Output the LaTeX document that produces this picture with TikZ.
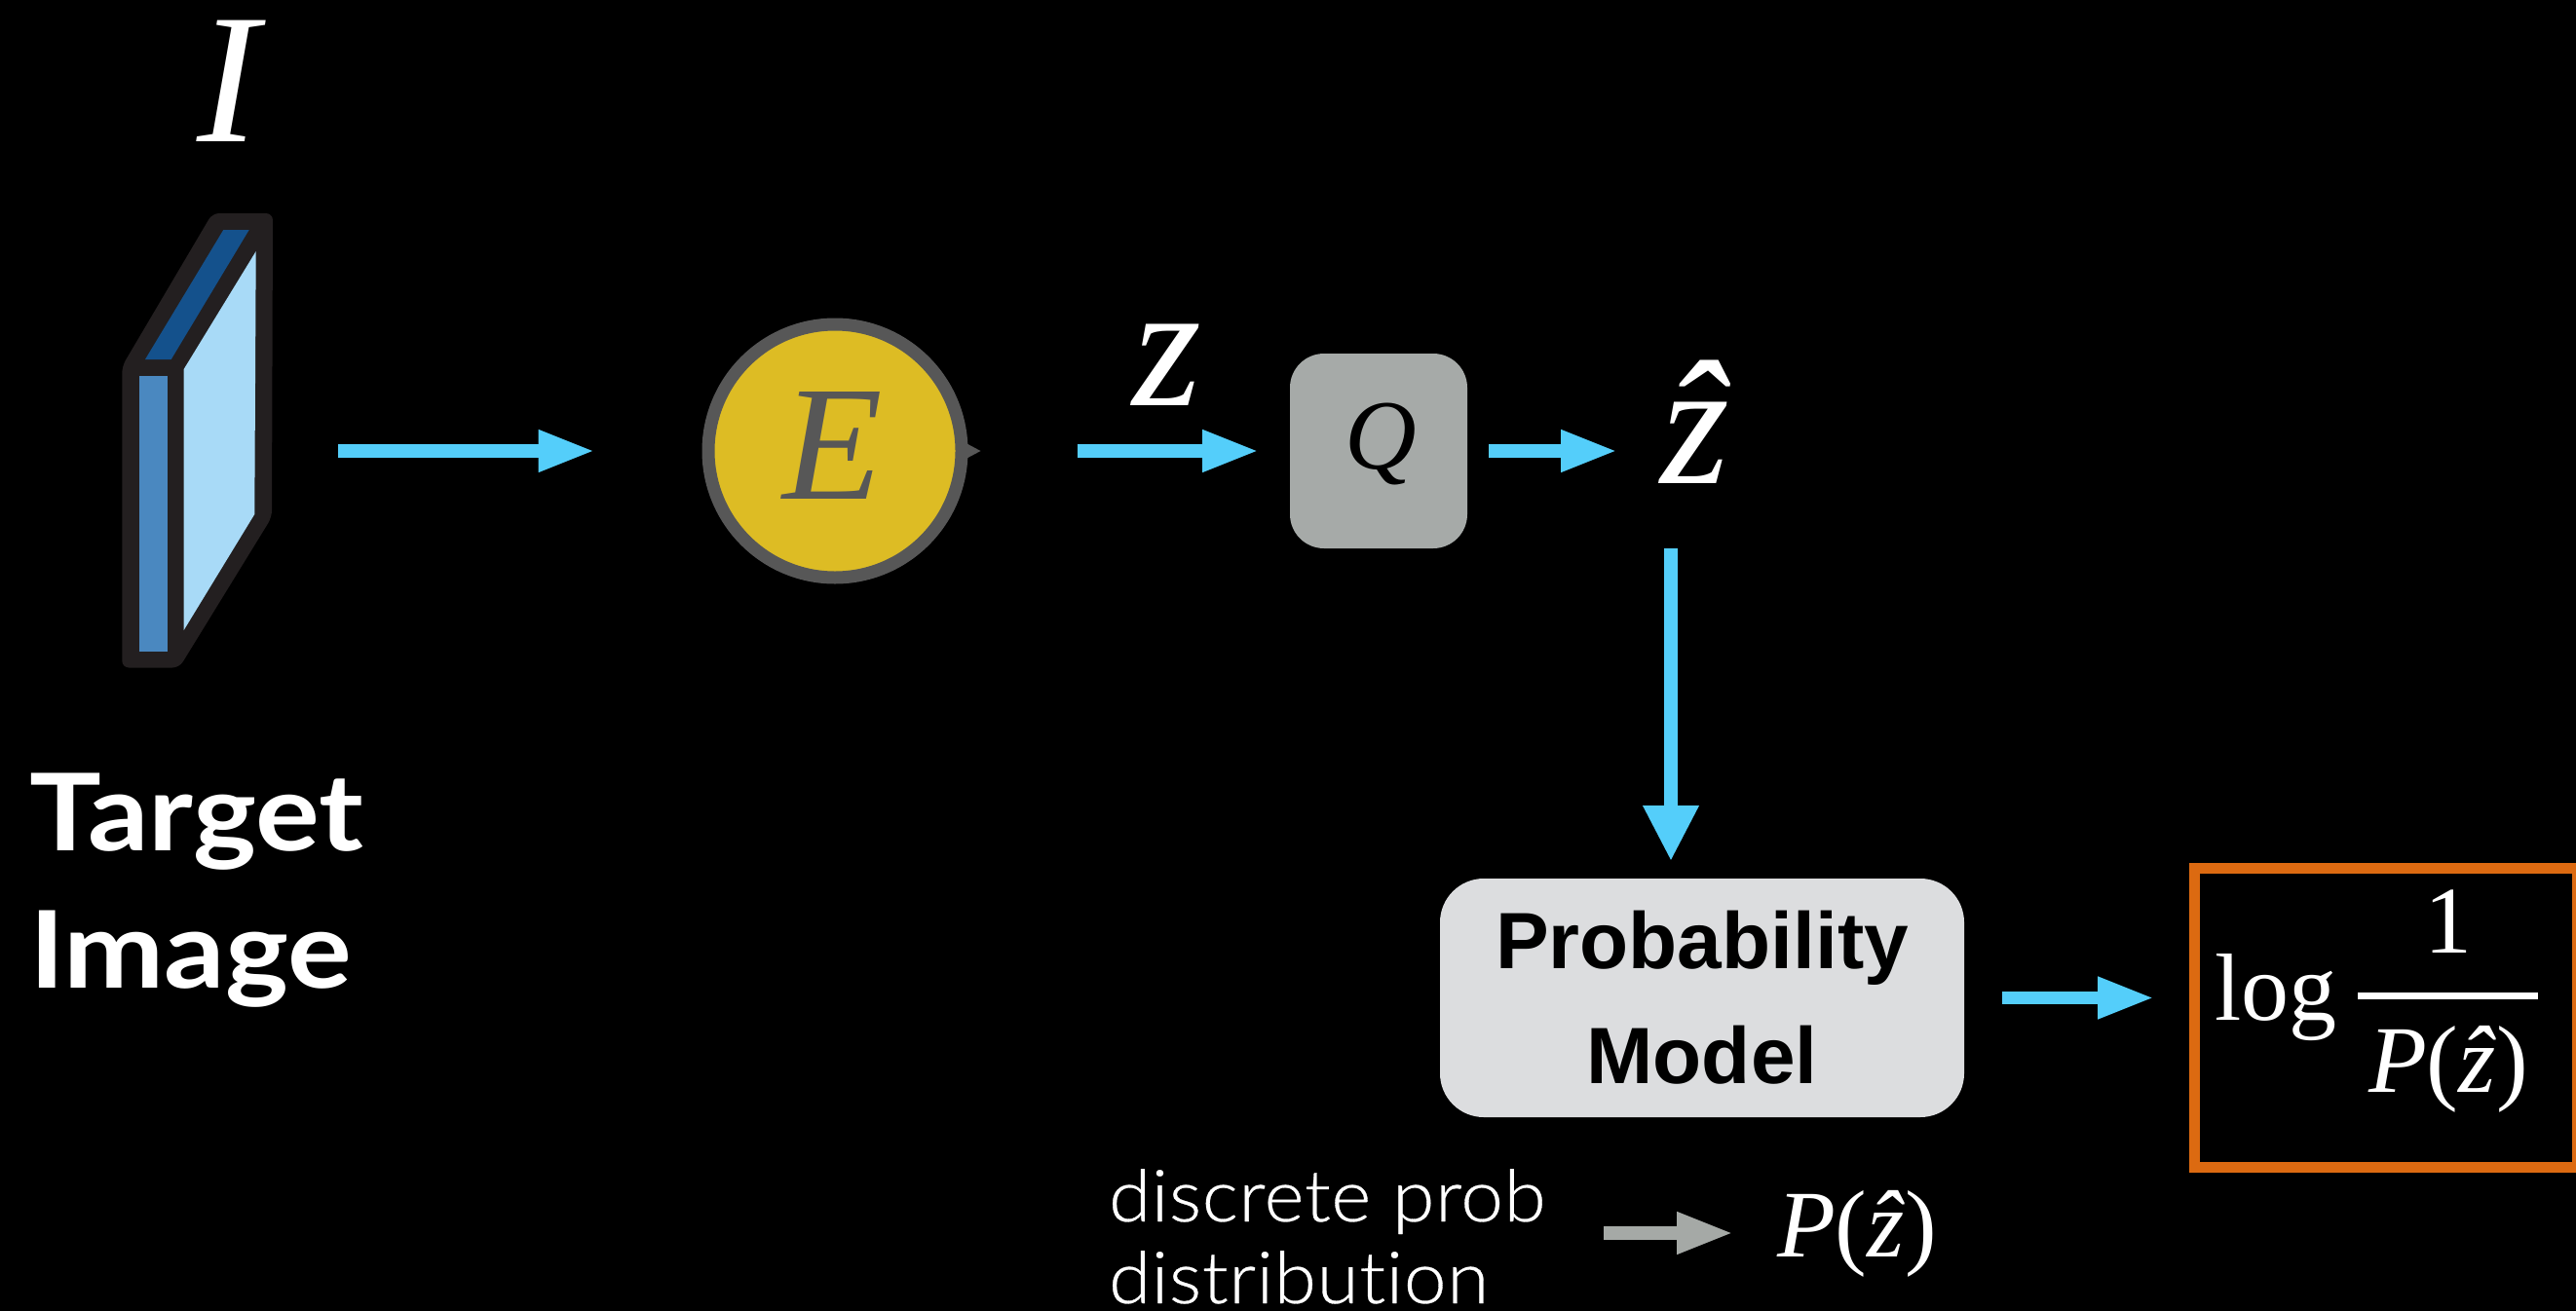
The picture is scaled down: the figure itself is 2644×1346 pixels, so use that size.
\documentclass[tikz,border=0pt]{standalone}
\usepackage{fontspec}
\setmainfont{Liberation Serif}
\newfontfamily\helv{Liberation Sans}
\newfontfamily\proxb[FakeStretch=1.12,Ligatures=NoCommon]{Lato}
\newfontfamily\proxl[FakeStretch=1.06,Ligatures=NoCommon,LetterSpace=0.8,FakeBold=0.4]{Lato Light}
\usetikzlibrary{arrows.meta,calc}
\definecolor{arrowblue}{HTML}{54CEFA}
\definecolor{arrowgrey}{HTML}{A5A9A6}
\definecolor{bookdark}{HTML}{231F20}
\definecolor{booktop}{HTML}{14518C}
\definecolor{bookside}{HTML}{4A88C0}
\definecolor{bookface}{HTML}{A8DAF7}
\definecolor{encgold}{HTML}{DDBC24}
\definecolor{encgrey}{HTML}{575757}
\definecolor{quantgrey}{HTML}{A6AAA8}
\definecolor{probgrey}{HTML}{DCDDDF}
\definecolor{boxorange}{HTML}{DC6A11}
\newcommand{\sz}[2]{\fontsize{#1}{#2}\selectfont}
\tikzset{
  flow/.style={draw=arrowblue,line width=13.2pt,-{Triangle[length=58pt,width=40pt,fill=arrowblue]}},
  txt/.style={text=white,inner sep=0pt,outer sep=0pt,anchor=base},
  mathi/.style={txt,font=\sz{182}{182}\itshape},
  mathm/.style={txt,font=\sz{98}{98}},
}
\begin{document}
\begin{tikzpicture}[x=1pt,y=-1pt]
\clip (0,0) rectangle (2644,1346);
\fill[black] (0,0) rectangle (2644,1346);
% target image block
\node[minimum width=155pt,minimum height=466pt,inner sep=0pt,outer sep=0pt] (book) at (202.5,452) {};
\fill[bookdark,rounded corners=7pt] (125.3,376) -- (218,219) -- (280,219) -- (279,531) -- (184,685.5) -- (125.3,685.5) -- cycle;
\fill[booktop] (229.3,236) -- (255.7,236) -- (175.7,369) -- (149,369) -- cycle;
\fill[bookside] (142.7,386) rectangle (171.7,669);
\fill[bookface] (188.7,379) -- (262.7,258) -- (261.3,528) -- (188.7,647) -- cycle;
\node[txt,font=\sz{190}{190}\itshape] (I) at (234,145) {I};
\node[txt,anchor=base west,align=left,font=\proxb\bfseries\sz{110}{141}] (target) at (30,1014) {Target\\Image};
% encoder
\node[circle,draw=encgrey,line width=13pt,fill=encgold,minimum size=260pt,inner sep=0pt] (E) at (857,463) {};
\node[txt,text=encgrey,font=\sz{168}{168}\itshape] (Etext) at (855,512) {E};
\fill[encgrey] (E.east) ++(-2,-8) -- ++(15,8) -- ++(-15,8) -- cycle;
% quantiser
\node[rounded corners=35pt,fill=quantgrey,minimum width=182pt,minimum height=200pt,inner sep=0pt,outer sep=0pt] (Q) at (1415,463) {};
\node[txt,text=black,font=\sz{102}{102}\itshape] (Qtext) at (1417,481) {Q};
\node[mathi] (z) at (1198,416) {z};
\node[mathi] (zhat) at (1740,496) {\^{z}};
\coordinate (zdown) at (1715,563);
% probability model
\node[rounded corners=45pt,fill=probgrey,minimum width=538pt,minimum height=245pt,inner sep=0pt,outer sep=0pt,text=black,align=center,font=\helv\bfseries\sz{82}{118}] (Prob) at (1747,1024.5) {Probability\\Model};
% rate box
\node[draw=boxorange,line width=11pt,minimum width=393pt,minimum height=307.5pt,inner sep=0pt,outer sep=5.5pt] (rate) at (2449,1044.75) {};
\node[txt,anchor=base west,font=\sz{98}{98}] (log) at (2273,1047) {log};
\node[mathm] (one) at (2513,978) {1};
\node[mathm,anchor=base west] (den) at (2431,1121) {\textit{P}(\textit{\^{z}})};
\coordinate (barl) at (2420,1022.5);
\coordinate (barr) at (2605,1022.5);
\draw[white,line width=6.5pt] (barl) -- (barr);
% legend
\node[txt,anchor=base west,align=left,font=\proxl\sz{74}{84}] (disc) at (1138,1338) {discrete prob\\distribution};
\node[mathm,anchor=base west] (pz) at (1824,1290) {\textit{P}(\textit{\^{z}})};
\coordinate (gs) at (1646,1266);
\coordinate (ge) at (1779,1266);
% connectors
\draw[flow,shorten <=67pt,shorten >=110pt] (book.east |- E.west) -- (E.west);
\draw[flow,shorten <=112pt,shorten >=32pt] (E.east) -- (Q.west);
\draw[flow,shorten <=22pt] (Q.east) -- (Q.east -| 1660,0);
\draw[flow,-{Triangle[length=57pt,width=54pt,fill=arrowblue]},shorten >=18pt] (zdown) -- (zdown |- Prob.north);
\draw[flow,shorten <=39pt,shorten >=36pt] (Prob.east) -- (Prob.east -| rate.west);
\draw[flow,draw=arrowgrey,-{Triangle[length=58pt,width=40pt,fill=arrowgrey]}] (gs) -- (ge);
\end{tikzpicture}
\end{document}
